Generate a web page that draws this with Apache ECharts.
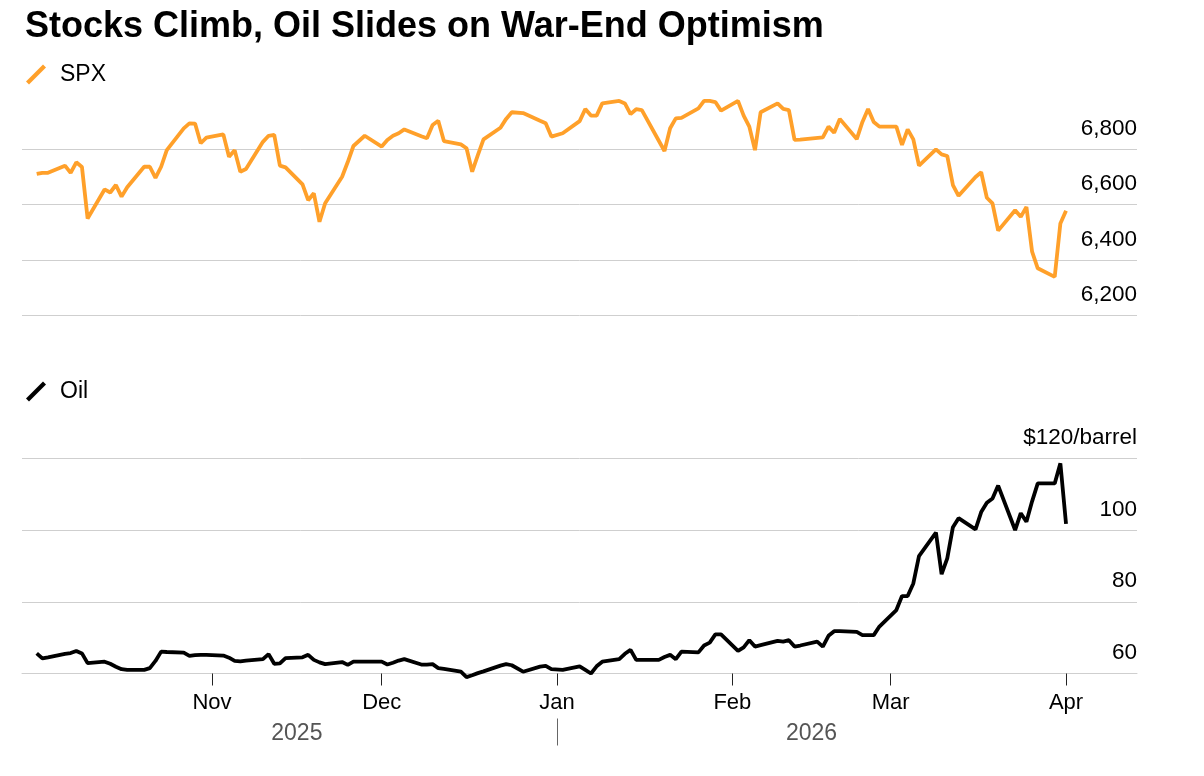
<!DOCTYPE html>
<html>
<head>
<meta charset="utf-8">
<script src="https://cdn.jsdelivr.net/npm/echarts@6/dist/echarts.min.js"></script>
<style>
html,body{margin:0;padding:0;background:#fff;}
#chart{width:1204px;height:776px;}
</style>
</head>
<body>
<div id="chart"></div>
<script>
// ---------- DATA ----------
const titleText = 'Stocks Climb, Oil Slides on War-End Optimism';
const seriesNames = ['SPX', 'Oil'];

const dates = [
 '2025-10-01','2025-10-02','2025-10-03','2025-10-06','2025-10-07','2025-10-08','2025-10-09','2025-10-10',
 '2025-10-13','2025-10-14','2025-10-15','2025-10-16','2025-10-17','2025-10-20','2025-10-21','2025-10-22',
 '2025-10-23','2025-10-24','2025-10-27','2025-10-28','2025-10-29','2025-10-30','2025-10-31',
 '2025-11-03','2025-11-04','2025-11-05','2025-11-06','2025-11-07','2025-11-10','2025-11-11','2025-11-12',
 '2025-11-13','2025-11-14','2025-11-17','2025-11-18','2025-11-19','2025-11-20','2025-11-21','2025-11-24',
 '2025-11-25','2025-11-26','2025-11-27','2025-11-28',
 '2025-12-01','2025-12-02','2025-12-03','2025-12-04','2025-12-05','2025-12-08','2025-12-09','2025-12-10',
 '2025-12-11','2025-12-12','2025-12-15','2025-12-16','2025-12-17','2025-12-18','2025-12-19','2025-12-22',
 '2025-12-23','2025-12-24','2025-12-26','2025-12-29','2025-12-30','2025-12-31',
 '2026-01-02','2026-01-05','2026-01-06','2026-01-07','2026-01-08','2026-01-09','2026-01-12','2026-01-13',
 '2026-01-14','2026-01-15','2026-01-16','2026-01-19','2026-01-20','2026-01-21','2026-01-22','2026-01-23',
 '2026-01-26','2026-01-27','2026-01-28','2026-01-29','2026-01-30',
 '2026-02-02','2026-02-03','2026-02-04','2026-02-05','2026-02-06','2026-02-09','2026-02-10','2026-02-11',
 '2026-02-12','2026-02-13','2026-02-16','2026-02-17','2026-02-18','2026-02-19','2026-02-20','2026-02-23',
 '2026-02-24','2026-02-25','2026-02-26','2026-02-27',
 '2026-03-02','2026-03-03','2026-03-04','2026-03-05','2026-03-06','2026-03-09','2026-03-10','2026-03-11',
 '2026-03-12','2026-03-13','2026-03-16','2026-03-17','2026-03-18','2026-03-19','2026-03-20','2026-03-23',
 '2026-03-24','2026-03-25','2026-03-26','2026-03-27','2026-03-30','2026-03-31',
 '2026-04-01'
];

// S&P 500 index level (null = US market holiday)
const spx = [
 6711,6715,6715,6741,6715,6753,6736,6550,6655,6644,6671,6629,6663,6737,6737,6697,6737,6797,6876,6894,6893,6822,6842,
 6854,6773,6797,6719,6729,6827,6849,6852,6741,6735,6673,6616,6641,6538,6605,6701,6754,6812,null,6849,
 6810,6834,6849,6858,6872,6847,6840,6888,6903,6830,6818,6804,6719,6779,6836,6878,6910,6934,6931,6903,6894,6846,
 6858,6902,6946,6922,6922,6966,6975,6966,6927,6945,6942,null,6794,6876,6912,6914,6948,6975,6975,6971,6940,
 6975,6922,6882,6797,6934,6966,6946,6942,6834,6835,null,6843,6882,6860,6910,6837,6899,6946,6899,6882,
 6882,6816,6872,6836,6741,6800,6782,6776,6671,6632,6700,6717,6625,6605,6506,6580,6556,6592,6430,6370,6339,6532,
 6578
];

// Oil, $/barrel
const oil = [
 65.6,64.2,64.5,65.5,65.7,66.3,65.6,62.9,63.3,62.7,61.9,61.2,61.0,61.0,61.5,63.5,66.1,66.0,65.8,64.9,65.1,65.2,65.2,
 65.0,64.4,63.5,63.4,63.6,64.0,65.4,62.7,62.8,64.3,64.5,65.2,63.8,63.1,62.6,63.2,62.4,63.3,63.3,63.3,
 63.3,62.5,63.0,63.6,64.0,62.5,62.5,62.6,61.5,61.3,60.5,59.0,59.5,60.1,60.6,62.2,62.6,62.3,60.5,61.9,62.1,61.2,
 61.0,62.0,61.0,60.0,62.0,63.3,64.0,65.5,66.6,63.8,63.8,63.8,64.6,65.2,64.0,66.1,65.9,67.8,68.6,70.9,70.9,
 66.3,67.3,69.3,67.5,67.9,69.1,68.9,69.3,67.5,67.8,68.9,67.5,70.5,71.8,71.8,71.6,70.7,70.7,70.7,73.1,
 77.7,81.6,81.6,85.1,92.7,99.3,87.7,92.1,100.8,103.3,100.2,105.0,107.6,108.8,112.4,100.0,104.7,102.3,108.0,113.0,113.0,118.6,
 101.7
];

// Axis ticks and labels
const spxTicks = [6200, 6400, 6600, 6800];
const spxTickLabels = ['6,200', '6,400', '6,600', '6,800'];
const oilTicks = [60, 80, 100, 120];
const oilTickLabels = ['60', '80', '100', '$120/barrel'];
const monthTicks = ['2025-11-01','2025-12-01','2026-01-01','2026-02-01','2026-03-01','2026-04-01'];
const monthLabels = ['Nov','Dec','Jan','Feb','Mar','Apr'];
const yearLabelDates = ['2025-11-16','2026-02-15'];
const yearLabels = ['2025','2026'];
const yearDivider = ['2026-01-01'];
const axisStart = '2025-10-01';
const axisEnd = '2026-04-01';

// ---------- BUILD ----------
function t(s){ const p = s.split('-').map(Number); return Date.UTC(p[0], p[1]-1, p[2]); }
const DAY = 86400000;
const xMin = t(axisStart) - 2.6 * DAY;
const xMax = t(axisEnd) + 12.55 * DAY;
const monthTickVals = monthTicks.map(t);
const yearLabelVals = yearLabelDates.map(t);
const yearDividerVals = yearDivider.map(t);
function pick(vals, labels, v){
  for (let i = 0; i < vals.length; i++) if (Math.abs(vals[i] - v) < DAY / 2) return labels[i];
  return '';
}
function pickNum(vals, labels, v){
  for (let i = 0; i < vals.length; i++) if (Math.abs(vals[i] - v) < 1e-6) return labels[i];
  return '';
}

const FONT = 'Liberation Sans';
const ORANGE = '#ffa02a';
const GRID = '#cfcfcf';
const slashIcon = 'path://M0,17 L17,0 L20,3 L3,20 Z';

const spxData = dates.map((d, i) => [t(d), spx[i]]);
const oilData = dates.map((d, i) => [t(d), oil[i]]);

const chart = echarts.init(document.getElementById('chart'), null, {renderer: 'canvas'});
const option = {
  animation: false,
  backgroundColor: '#ffffff',
  textStyle: {fontFamily: FONT},
  title: {
    text: titleText, left: 25, top: 9, padding: 0,
    textStyle: {fontFamily: FONT, fontSize: 36, fontWeight: 'bold', color: '#000'}
  },
  legend: [
    {
      data: [seriesNames[0]], left: 26, top: 63, padding: 0, itemWidth: 20, itemHeight: 20,
      icon: slashIcon, selectedMode: false,
      textStyle: {fontFamily: FONT, fontSize: 23, color: '#000', padding: [0, 0, 0, 9]}
    },
    {
      data: [seriesNames[1]], left: 26, top: 380, padding: 0, itemWidth: 20, itemHeight: 20,
      icon: slashIcon, selectedMode: false,
      textStyle: {fontFamily: FONT, fontSize: 23, color: '#000', padding: [0, 0, 0, 9]}
    }
  ],
  grid: [
    {left: 22, right: 67, top: 94, height: 221.3},
    {left: 22, right: 67, top: 458.3, height: 215.2}
  ],
  xAxis: [
    {type: 'value', gridIndex: 0, min: xMin, max: xMax, show: false},
    {
      type: 'value', gridIndex: 1, min: xMin, max: xMax,
      axisLine: {show: true, lineStyle: {color: GRID, width: 1}},
      axisTick: {show: true, customValues: monthTickVals, length: 12, lineStyle: {color: '#222', width: 1}},
      axisLabel: {
        customValues: monthTickVals, margin: 18, fontSize: 22, color: '#000', fontFamily: FONT,
        formatter: v => pick(monthTickVals, monthLabels, v)
      },
      splitLine: {show: false}
    },
    {
      type: 'value', gridIndex: 1, min: xMin, max: xMax, position: 'bottom', offset: 45,
      axisLine: {show: false},
      axisTick: {show: true, customValues: yearDividerVals, length: 27, lineStyle: {color: '#666', width: 1}},
      axisLabel: {
        customValues: yearLabelVals, margin: 4, fontSize: 23, color: '#555', fontFamily: FONT,
        formatter: v => pick(yearLabelVals, yearLabels, v)
      },
      splitLine: {show: false}
    }
  ],
  yAxis: [
    {
      type: 'value', gridIndex: 0, position: 'right', min: 6200, max: 7000, interval: 200,
      axisLine: {show: false}, axisTick: {show: false},
      splitLine: {show: true, showMaxLine: false, lineStyle: {color: GRID, width: 1}},
      axisLabel: {
        inside: true, margin: 0, showMaxLabel: false, verticalAlign: 'bottom', padding: [0, 0, 9, 0],
        fontSize: 22.5, color: '#000', fontFamily: FONT,
        formatter: v => pickNum(spxTicks, spxTickLabels, v)
      }
    },
    {
      type: 'value', gridIndex: 1, position: 'right', min: 60, max: 120, interval: 20,
      axisLine: {show: false}, axisTick: {show: false},
      splitLine: {show: true, lineStyle: {color: GRID, width: 1}},
      axisLabel: {
        inside: true, margin: 0, verticalAlign: 'bottom', padding: [0, 0, 9, 0],
        fontSize: 22.5, color: '#000', fontFamily: FONT,
        formatter: v => pickNum(oilTicks, oilTickLabels, v)
      }
    }
  ],
  series: [
    {
      name: seriesNames[0], type: 'line', xAxisIndex: 0, yAxisIndex: 0, data: spxData,
      symbol: 'none', showSymbol: false, connectNulls: true, clip: false,
      lineStyle: {color: ORANGE, width: 3.8}, itemStyle: {color: ORANGE}
    },
    {
      name: seriesNames[1], type: 'line', xAxisIndex: 1, yAxisIndex: 1, data: oilData,
      symbol: 'none', showSymbol: false, connectNulls: true, clip: false,
      lineStyle: {color: '#000', width: 3.8}, itemStyle: {color: '#000'}
    }
  ]
};
chart.setOption(option);
</script>
</body>
</html>
